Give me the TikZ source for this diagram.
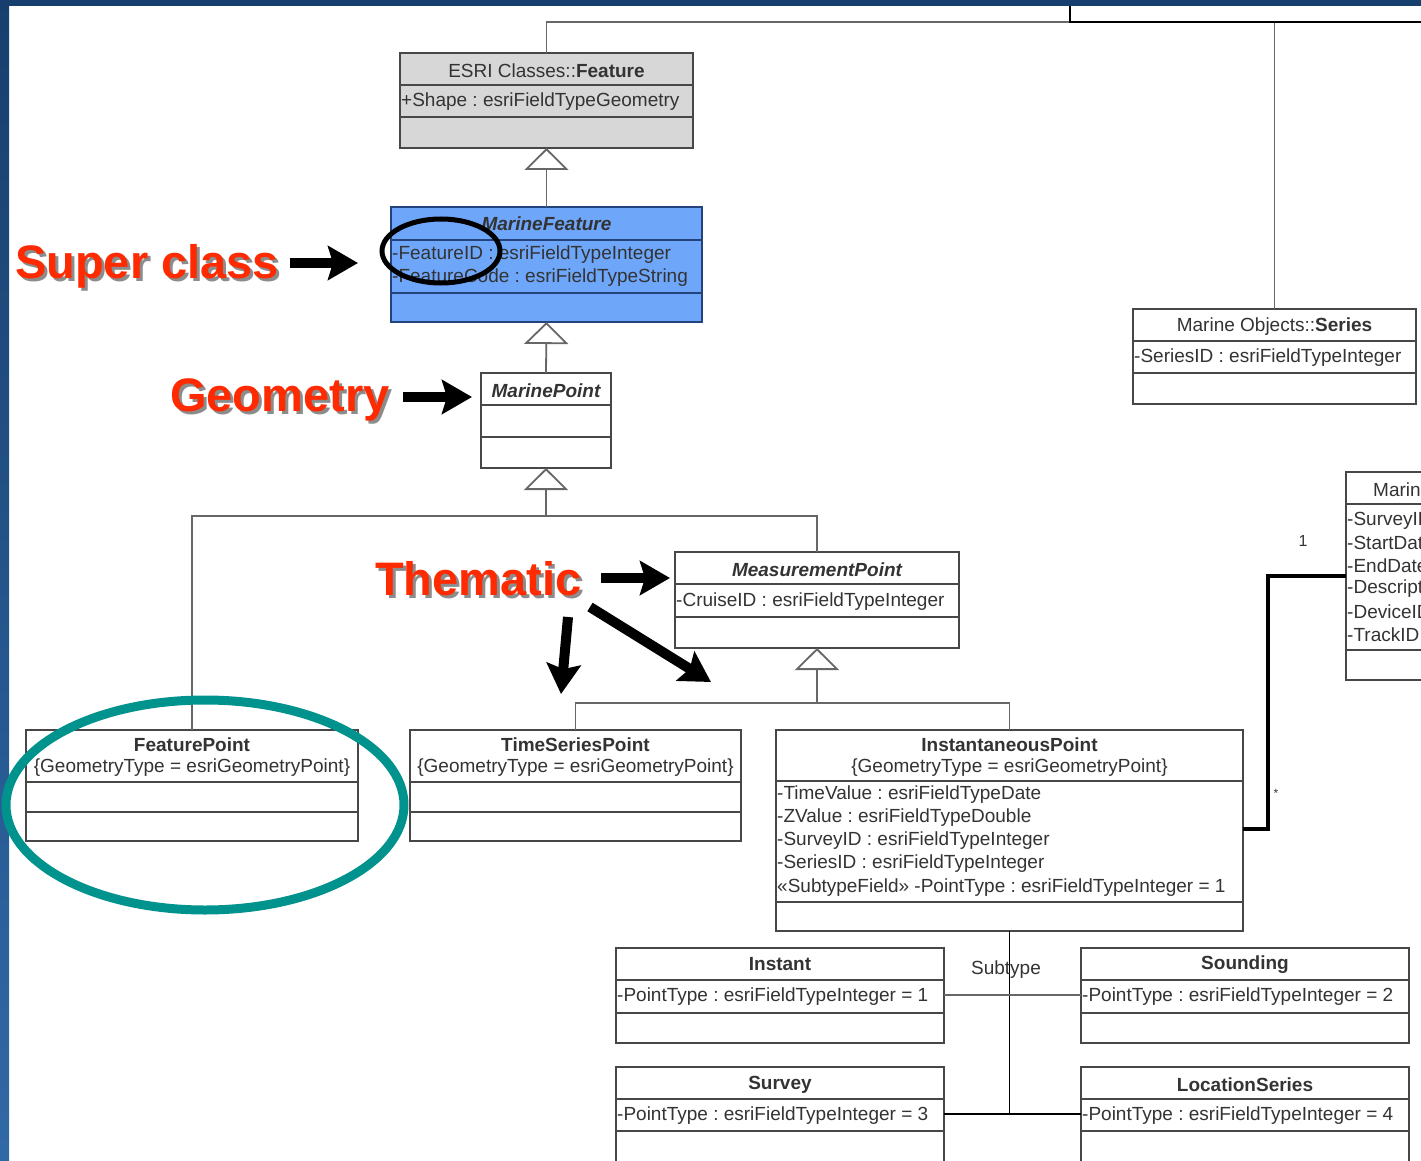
\documentclass[tikz,border=0pt]{standalone}
\usepackage{fontspec}
\setmainfont{Liberation Sans}
\usetikzlibrary{arrows.meta,calc}

\definecolor{frametop}{HTML}{173F6E}
\definecolor{framebot}{HTML}{3169A6}
\definecolor{ink}{HTML}{333333}
\definecolor{edge}{HTML}{474747}
\definecolor{wire}{HTML}{676767}
\definecolor{esrigray}{HTML}{D7D7D7}
\definecolor{mfblue}{HTML}{6EA6FA}
\definecolor{mfedge}{HTML}{24427C}
\definecolor{callred}{HTML}{FF2A00}
\definecolor{ringteal}{HTML}{00928C}

\newcommand\boxfont{\fontsize{19}{23}\selectfont}
\frenchspacing

\begin{document}
\begin{tikzpicture}[x=1pt,y=-1pt,
  umlbox/.style={draw=edge, line width=1.4pt, fill=white, anchor=north west,
                 inner sep=0pt, outer sep=0pt},
  divider/.style={draw=edge, line width=1.4pt},
  conn/.style={draw=wire, line width=1.8pt},
  darkwire/.style={draw=black, line width=2.2pt},
  assoc/.style={draw=black, line width=4.5pt},
  gen/.style={conn, -{Triangle[length=22pt, width=44pt, fill=white]}},
  title/.style={font=\boxfont, text=ink, inner sep=0pt, yshift=-1.5pt},
  ttl/.style={font=\boxfont\bfseries, text=ink, inner sep=0pt, yshift=-1.5pt},
  ttlit/.style={font=\boxfont\bfseries\itshape, text=ink, inner sep=0pt, yshift=-1.5pt},
  attr/.style={font=\boxfont, text=ink, inner sep=0pt, anchor=west, yshift=-2pt},
  small/.style={font=\fontsize{16}{18}\selectfont, text=ink, inner sep=0pt},
  callout/.style={font=\fontsize{47}{50}\selectfont\bfseries, text=callred,
                  inner sep=0pt, anchor=base west},
  calloutshadow/.style={font=\fontsize{47}{50}\selectfont\bfseries, text=black,
                  text opacity=0.45, inner sep=0pt, anchor=base west},
  pointer/.style={draw=black, line width=10pt,
                  -{Stealth[length=30pt, width=34pt, inset=5pt]}},
]
\useasboundingbox (0,0) rectangle (1421,1161);
\clip (0,0) rectangle (1421,1161);

% slide frame
\fill[white] (0,0) rectangle (1421,1161);
\shade[top color=frametop, bottom color=framebot] (0,0) rectangle (9,1161);
\fill[frametop] (0,0) rectangle (1421,6);

% ---------------- classes ----------------
% ESRI Classes::Feature
\node[umlbox, fill=esrigray, minimum width=293pt, minimum height=95pt] (feat) at (400,53) {};
\draw[divider] (feat.west |- 0,85) -- (feat.east |- 0,85);
\draw[divider] (feat.west |- 0,117) -- (feat.east |- 0,117);
\node[title] (featT) at (546.5,69) {ESRI Classes::\textbf{Feature}};
\node[attr] (featA) at (401,100) {+Shape : esriFieldTypeGeometry};

% MarineFeature
\node[umlbox, draw=mfedge, fill=mfblue, minimum width=311pt, minimum height=115pt] (mf) at (391,207) {};
\draw[divider, draw=mfedge] (mf.west |- 0,240) -- (mf.east |- 0,240);
\draw[divider, draw=mfedge] (mf.west |- 0,293) -- (mf.east |- 0,293);
\node[ttlit] (mfT) at (546.5,222) {MarineFeature};
\node[attr] (mfA1) at (392,253) {-FeatureID : esriFieldTypeInteger};
\node[attr] (mfA2) at (392,276) {-FeatureCode : esriFieldTypeString};

% MarinePoint
\node[umlbox, minimum width=130pt, minimum height=95pt] (mp) at (481,373) {};
\draw[divider] (mp.west |- 0,405) -- (mp.east |- 0,405);
\draw[divider] (mp.west |- 0,437) -- (mp.east |- 0,437);
\node[ttlit] (mpT) at (546,389) {MarinePoint};

% MeasurementPoint
\node[umlbox, minimum width=284pt, minimum height=96pt] (meas) at (675,552) {};
\draw[divider] (meas.west |- 0,584) -- (meas.east |- 0,584);
\draw[divider] (meas.west |- 0,617) -- (meas.east |- 0,617);
\node[ttlit] (measT) at (817,568) {MeasurementPoint};
\node[attr] (measA) at (676,600) {-CruiseID : esriFieldTypeInteger};

% FeaturePoint
\node[umlbox, minimum width=332pt, minimum height=111pt] (fp) at (26,730) {};
\draw[divider] (fp.west |- 0,782) -- (fp.east |- 0,782);
\draw[divider] (fp.west |- 0,812) -- (fp.east |- 0,812);
\node[ttl] (fpT) at (192,743) {FeaturePoint};
\node[title] (fpG) at (192,766) {\{GeometryType = esriGeometryPoint\}};

% TimeSeriesPoint
\node[umlbox, minimum width=331pt, minimum height=111pt] (tsp) at (410,730) {};
\draw[divider] (tsp.west |- 0,782) -- (tsp.east |- 0,782);
\draw[divider] (tsp.west |- 0,812) -- (tsp.east |- 0,812);
\node[ttl] (tspT) at (575.5,743) {TimeSeriesPoint};
\node[title] (tspG) at (575.5,766) {\{GeometryType = esriGeometryPoint\}};

% InstantaneousPoint
\node[umlbox, minimum width=467pt, minimum height=201pt] (ip) at (776,730) {};
\draw[divider] (ip.west |- 0,781) -- (ip.east |- 0,781);
\draw[divider] (ip.west |- 0,902) -- (ip.east |- 0,902);
\node[ttl] (ipT) at (1009.5,743) {InstantaneousPoint};
\node[title] (ipG) at (1009.5,766) {\{GeometryType = esriGeometryPoint\}};
\node[attr] (ipA1) at (777,793) {-TimeValue : esriFieldTypeDate};
\node[attr] (ipA2) at (777,816) {-ZValue : esriFieldTypeDouble};
\node[attr] (ipA3) at (777,839) {-SurveyID : esriFieldTypeInteger};
\node[attr] (ipA4) at (777,862) {-SeriesID : esriFieldTypeInteger};
\node[attr] (ipA5) at (777,886) {«SubtypeField» -PointType : esriFieldTypeInteger = 1};

% Marine Objects::Series
\node[umlbox, minimum width=283pt, minimum height=95pt] (ser) at (1133,309) {};
\draw[divider] (ser.west |- 0,341) -- (ser.east |- 0,341);
\draw[divider] (ser.west |- 0,373) -- (ser.east |- 0,373);
\node[title] (serT) at (1274.5,325) {Marine Objects::\textbf{Series}};
\node[attr] (serA) at (1134,356) {-SeriesID : esriFieldTypeInteger};

% survey class at the right border
\node[umlbox, minimum width=260pt, minimum height=208pt] (msv) at (1346,472) {};
\draw[divider] (msv.west |- 0,504) -- (msv.east |- 0,504);
\draw[divider] (msv.west |- 0,650) -- (msv.east |- 0,650);
\node[title, anchor=west] (msvT) at (1373,488) {Marine};
\node[attr] (msvA1) at (1347,519) {-SurveyID};
\node[attr] (msvA2) at (1347,541) {-StartDate};
\node[attr] (msvA3) at (1347,564) {-EndDate};
\node[attr] (msvA4) at (1347,587) {-Description};
\node[attr] (msvA5) at (1347,610) {-DeviceID};
\node[attr] (msvA6) at (1347,633) {-TrackID};

% subtypes
\node[umlbox, minimum width=328pt, minimum height=95pt] (inst) at (616,948) {};
\draw[divider] (inst.west |- 0,980) -- (inst.east |- 0,980);
\draw[divider] (inst.west |- 0,1013) -- (inst.east |- 0,1013);
\node[ttl] (instT) at (780,963) {Instant};
\node[attr] (instA) at (617,995) {-PointType : esriFieldTypeInteger = 1};

\node[umlbox, minimum width=328pt, minimum height=95pt] (snd) at (1081,948) {};
\draw[divider] (snd.west |- 0,980) -- (snd.east |- 0,980);
\draw[divider] (snd.west |- 0,1013) -- (snd.east |- 0,1013);
\node[ttl] (sndT) at (1245,963) {Sounding};
\node[attr] (sndA) at (1082,995) {-PointType : esriFieldTypeInteger = 2};

\node[umlbox, minimum width=328pt, minimum height=110pt] (srv) at (616,1067) {};
\draw[divider] (srv.west |- 0,1099) -- (srv.east |- 0,1099);
\draw[divider] (srv.west |- 0,1131) -- (srv.east |- 0,1131);
\node[ttl] (srvT) at (780,1083) {Survey};
\node[attr] (srvA) at (617,1114) {-PointType : esriFieldTypeInteger = 3};

\node[umlbox, minimum width=328pt, minimum height=110pt] (loc) at (1081,1067) {};
\draw[divider] (loc.west |- 0,1099) -- (loc.east |- 0,1099);
\draw[divider] (loc.west |- 0,1131) -- (loc.east |- 0,1131);
\node[ttl] (locT) at (1245,1083) {LocationSeries};
\node[attr] (locA) at (1082,1114) {-PointType : esriFieldTypeInteger = 4};

% ---------------- connectors ----------------
\coordinate (jtop) at (1070,22);
\coordinate (frameT) at (1070,6);
\coordinate (frameR) at (1421,22);
\draw[conn] (feat.north) |- (jtop);
\draw[conn] (ser.north) -- (ser.north |- jtop);
\draw[darkwire] (frameT) |- (frameR);

\draw[gen] (mf.north) -- (feat.south);
\draw[gen] (mp.north) -- (mf.south);

\coordinate (j2) at (546,516);
\draw[conn] (fp.north) |- (j2) -| (meas.north);
\draw[gen] (j2) -- (mp.south);

\coordinate (j3) at (817,703);
\draw[conn] (tsp.north) |- (j3) -| (ip.north);
\draw[gen] (j3) -- (meas.south);

% association to the survey class
\coordinate (abend) at (1268,576);
\draw[assoc] (ip.east |- 0,829) -| (abend) -- (msv.west |- abend);
\node[small] (mult1) at (1303,541) {1};
\node[font=\fontsize{12}{12}\selectfont, text=ink, inner sep=0pt] (multS) at (1276,793) {*};

% subtype tree
\coordinate (stj) at (1009.5,1114);
\draw[darkwire, line width=1.8pt] (ip.south) -- (stj);
\draw[conn] (inst.east |- 0,995) -- (snd.west |- 0,995);
\draw[darkwire, line width=1.8pt] (srv.east |- stj) -- (loc.west |- stj);
\node[title] (stT) at (1006,968) {Subtype};

% ---------------- annotations ----------------
\node[calloutshadow] (scS) at (18,281) {Super class};
\node[callout] (sc) at (15,278) {Super class};
\node[calloutshadow] (geS) at (173,414) {Geometry};
\node[callout] (ge) at (170,411) {Geometry};
\node[calloutshadow] (thS) at (378,598) {Thematic};
\node[callout] (th) at (375,595) {Thematic};

\coordinate (p1a) at (290,263);  \coordinate (p1b) at (358,263);
\coordinate (p2a) at (403,397);  \coordinate (p2b) at (472,397);
\coordinate (p3a) at (601,578);  \coordinate (p3b) at (670,578);
\coordinate (p4a) at (568,617);  \coordinate (p4b) at (561,694);
\coordinate (p5a) at (590,607);  \coordinate (p5b) at (711,682);
\draw[pointer] (p1a) -- (p1b);
\draw[pointer] (p2a) -- (p2b);
\draw[pointer] (p3a) -- (p3b);
\draw[pointer] (p4a) -- (p4b);
\draw[pointer] (p5a) -- (p5b);

\draw[black, line width=5pt] (441,251) ellipse [x radius=59, y radius=32];
\draw[ringteal, line width=9pt] (205,805) ellipse [x radius=199, y radius=105];
\end{tikzpicture}
\end{document}
